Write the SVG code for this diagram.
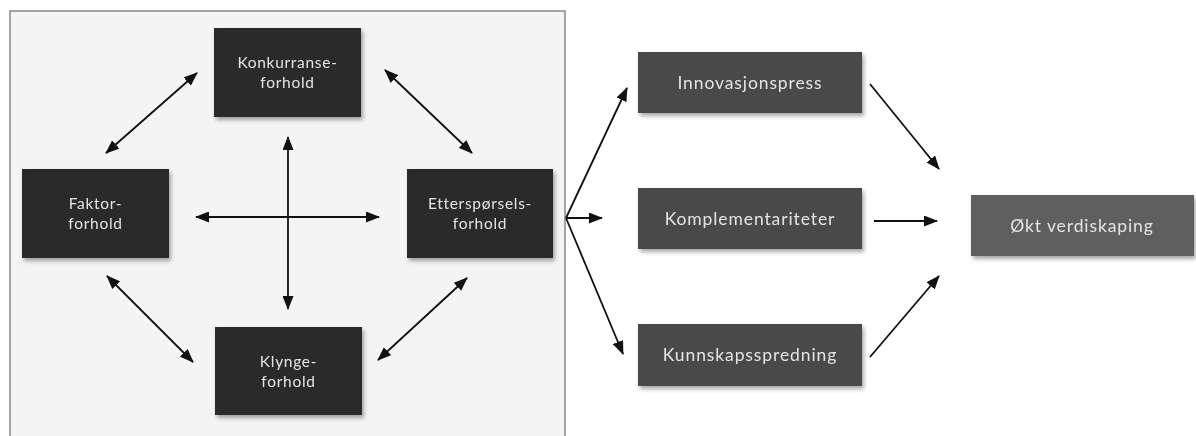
<svg xmlns="http://www.w3.org/2000/svg" width="1196" height="436" viewBox="0 0 1196 436">
<defs>
<marker id="ah" viewBox="0 0 14 11" refX="13" refY="5.5" markerWidth="14" markerHeight="11" markerUnits="userSpaceOnUse" orient="auto-start-reverse">
<path d="M0,0 L14,5.5 L0,11 Z" fill="#111"/>
</marker>
<filter id="sh" x="-10%" y="-10%" width="125%" height="130%">
<feGaussianBlur in="SourceAlpha" stdDeviation="2"/>
<feOffset dx="2" dy="3" result="b"/>
<feComponentTransfer><feFuncA type="linear" slope="0.35"/></feComponentTransfer>
<feMerge><feMergeNode/><feMergeNode in="SourceGraphic"/></feMerge>
</filter>
</defs>
<style>
.dk{fill:#2a2b2a}
.md{fill:#494949}
.lt{fill:#5f5f5f}
text{font-family:Lato,"Open Sans","Liberation Sans",sans-serif;fill:#e4e4e4;text-anchor:middle;font-size:15.5px;letter-spacing:0.7px}
.rt{font-size:17.5px;letter-spacing:0.9px}
.cn{stroke:#111;stroke-width:1.8;fill:none}
</style>
<rect x="10" y="11" width="555" height="440" fill="#f4f4f4" stroke="#888" stroke-width="1.5"/>
<g id="konkurranse" filter="url(#sh)"><rect class="dk" x="214" y="28" width="147" height="89"/><text x="287.5" y="68">Konkurranse-</text><text x="287.5" y="88">forhold</text></g>
<g id="faktor" filter="url(#sh)"><rect class="dk" x="22" y="169" width="147" height="89"/><text x="95.5" y="209">Faktor-</text><text x="95.5" y="229">forhold</text></g>
<g id="ettersporsels" filter="url(#sh)"><rect class="dk" x="407" y="169" width="146" height="89"/><text x="480" y="209">Etterspørsels-</text><text x="480" y="229">forhold</text></g>
<g id="klynge" filter="url(#sh)"><rect class="dk" x="215" y="327" width="147" height="88"/><text x="288.5" y="367">Klynge-</text><text x="288.5" y="387">forhold</text></g>
<g id="innovasjonspress" filter="url(#sh)"><rect class="md" x="638" y="52" width="224" height="61"/><text class="rt" x="750" y="89">Innovasjonspress</text></g>
<g id="komplementariteter" filter="url(#sh)"><rect class="md" x="638" y="188" width="224" height="61"/><text class="rt" x="750" y="225">Komplementariteter</text></g>
<g id="kunnskapsspredning" filter="url(#sh)"><rect class="md" x="638" y="324" width="224" height="62"/><text class="rt" x="750" y="361">Kunnskapsspredning</text></g>
<g id="okt" filter="url(#sh)"><rect class="lt" x="971" y="195" width="223" height="61"/><text class="rt" x="1082" y="232">Økt verdiskaping</text></g>
<g id="connectors" class="cn">
<line x1="106" y1="153" x2="197" y2="73" marker-start="url(#ah)" marker-end="url(#ah)"/>
<line x1="385" y1="70" x2="472" y2="153" marker-start="url(#ah)" marker-end="url(#ah)"/>
<line x1="107" y1="276" x2="193" y2="362" marker-start="url(#ah)" marker-end="url(#ah)"/>
<line x1="467" y1="278" x2="378" y2="360" marker-start="url(#ah)" marker-end="url(#ah)"/>
<line x1="288" y1="137" x2="288" y2="309" marker-start="url(#ah)" marker-end="url(#ah)"/>
<line x1="196" y1="217" x2="379" y2="217" marker-start="url(#ah)" marker-end="url(#ah)"/>
<line x1="566" y1="218" x2="627" y2="88" marker-end="url(#ah)"/>
<line x1="566" y1="218" x2="602" y2="218" marker-end="url(#ah)"/>
<line x1="566" y1="218" x2="623" y2="354" marker-end="url(#ah)"/>
<line x1="870" y1="84" x2="939" y2="169" marker-end="url(#ah)"/>
<line x1="874" y1="221" x2="937" y2="221" marker-end="url(#ah)"/>
<line x1="870" y1="357" x2="939" y2="276" marker-end="url(#ah)"/>
</g>
</svg>
